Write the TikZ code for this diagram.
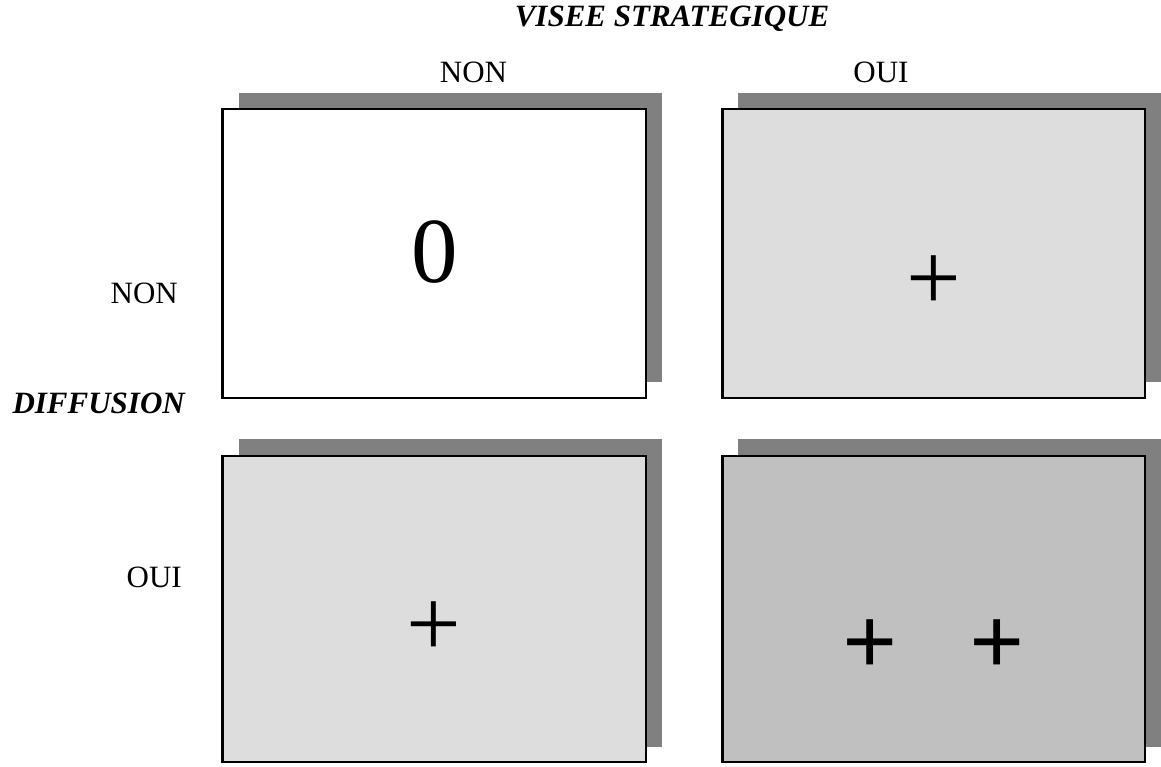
\documentclass[tikz,border=0pt]{standalone}
\usepackage{fontspec}
\setmainfont{Liberation Serif}
\definecolor{shadowgray}{HTML}{808080}
\definecolor{lightcell}{HTML}{DDDDDD}
\definecolor{darkcell}{HTML}{C0C0C0}
\tikzset{
  shadowbox/.style={fill=shadowgray, draw=none},
  cellbox/.style={draw=black, line width=2.5pt},
  lbl/.style={inner sep=0pt, font=\fontsize{31}{37}\selectfont},
  title/.style={inner sep=0pt, font=\fontsize{31}{37}\selectfont\bfseries\itshape},
  bigsym/.style={inner sep=0pt, anchor=base, font=\fontsize{97}{110}\selectfont},
  bigsymbold/.style={inner sep=0pt, anchor=base, font=\fontsize{97}{110}\selectfont\bfseries},
}
\begin{document}
\begin{tikzpicture}[x=1pt,y=-1pt]
\useasboundingbox (0,0) rectangle (1161,767);
% shadows
\fill[shadowbox] (239,93) rectangle (662,382);
\fill[shadowbox] (738,93) rectangle (1161,382);
\fill[shadowbox] (239,439) rectangle (662,747);
\fill[shadowbox] (738,439) rectangle (1161,747);
% cells
\draw[cellbox, fill=white] (222.5,109) rectangle (646,398);
\draw[cellbox, fill=lightcell] (722.5,109) rectangle (1145,398);
\draw[cellbox, fill=lightcell] (222.5,456) rectangle (646,762);
\draw[cellbox, fill=darkcell] (722.5,456) rectangle (1145,762);
% labels
\node[title, anchor=base] (visee) at (672,27) {VISEE STRATEGIQUE};
\node[lbl, anchor=base] (colnon) at (473.5,83) {NON};
\node[lbl, anchor=base] (coloui) at (881,83) {OUI};
\node[lbl, anchor=base east] (rownon) at (178,303) {NON};
\node[title, anchor=base east] (diff) at (185,413) {DIFFUSION};
\node[lbl, anchor=base east] (rowoui) at (182,587) {OUI};
% cell contents
\node[inner sep=0pt, anchor=base, font=\fontsize{93}{110}\selectfont] (zero) at (435,283) {0};
\node[bigsym] (plusa) at (933.5,310) {+};
\node[bigsym] (plusb) at (434,656) {+};
\node[bigsymbold] (plusc) at (870,674) {+};
\node[bigsymbold] (plusd) at (997,674) {+};
\end{tikzpicture}
\end{document}
